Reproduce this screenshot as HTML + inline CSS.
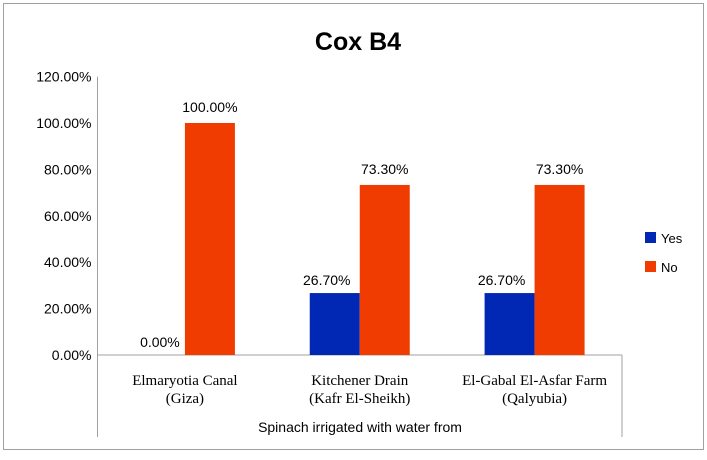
<!DOCTYPE html>
<html><head><meta charset="utf-8"><style>
body{margin:0;background:#fff;}
svg text{font-family:"Liberation Sans",sans-serif;}
</style></head><body>
<svg width="707" height="455">
<rect x="3.5" y="3.5" width="700" height="446" fill="#fff" stroke="#a0a0a0"/>
<text x="358" y="50" text-anchor="middle" font-size="25" font-weight="bold">Cox B4</text>
<g id="axes"></g>
<g id="bars"></g>
<text x="360" y="432" text-anchor="middle" font-size="14">Spinach  irrigated with water from</text>
<rect x="645" y="232" width="11" height="11" fill="#0028b4"/>
<text x="661" y="243" font-size="13">Yes</text>
<rect x="645" y="261" width="11" height="11" fill="#f03c00"/>
<text x="661" y="272" font-size="13">No</text>
</svg>
<script>
const categories=[["Elmaryotia Canal","(Giza)"],["Kitchener Drain","(Kafr El-Sheikh)"],["El-Gabal El-Asfar Farm","(Qalyubia)"]];
const yesValues=[0,26.7,26.7];
const noValues=[100,73.3,73.3];
const yesLabels=["0.00%","26.70%","26.70%"];
const noLabels=["100.00%","73.30%","73.30%"];
const yTicks=[0,20,40,60,80,100,120];
const NS="http://www.w3.org/2000/svg";
const x0=97.5,x1=622,y0=355,yTop=76.6;
const y=v=>y0-(v/120)*(y0-yTop);
const step=(x1-x0)/categories.length;
const cx=i=>x0+step*(i+0.5);
const bw=50;
function mk(tag,attrs,parent,txt){const e=document.createElementNS(NS,tag);for(const k in attrs)e.setAttribute(k,attrs[k]);if(txt!==undefined)e.textContent=txt;parent.appendChild(e);return e;}
const ax=document.getElementById('axes'),bg=document.getElementById('bars');
let l=mk('line',{x1:x0,y1:yTop,x2:x0,y2:437,stroke:'#a0a0a0'},ax);


l=mk('line',{x1:x0,y1:y0,x2:x1,y2:y0,stroke:'#a0a0a0'},ax);


l=mk('line',{x1:x1,y1:y0,x2:x1,y2:437,stroke:'#a0a0a0'},ax);


yTicks.forEach(t=>{
  const tx=mk('text',{x:x0-6,y:y(t)+5,'text-anchor':'end','font-size':14},ax,t.toFixed(2)+'%');
  
  
});
categories.forEach((c,i)=>{
  c.forEach((s,j)=>{
    const t=mk('text',{x:cx(i),y:385+j*18,'text-anchor':'middle','font-size':15},ax,s);
    t.style.fontFamily='"Liberation Serif",serif';
    
    
  });
  const yb=mk('rect',{x:cx(i)-bw,y:y(yesValues[i]),width:bw,height:y0-y(yesValues[i]),fill:'#0028b4'},bg);
  
  
  const nb=mk('rect',{x:cx(i),y:y(noValues[i]),width:bw,height:y0-y(noValues[i]),fill:'#f03c00'},bg);
  
  
  const yl=mk('text',{x:cx(i)-bw/2-(yesValues[i]===0?0:8),y:y(yesValues[i])-8,'text-anchor':'middle','font-size':14},bg,yesLabels[i]);
  
  
  const nl=mk('text',{x:cx(i)+bw/2,y:y(noValues[i])-11,'text-anchor':'middle','font-size':14},bg,noLabels[i]);
  
  
});
</script>
</body></html>
